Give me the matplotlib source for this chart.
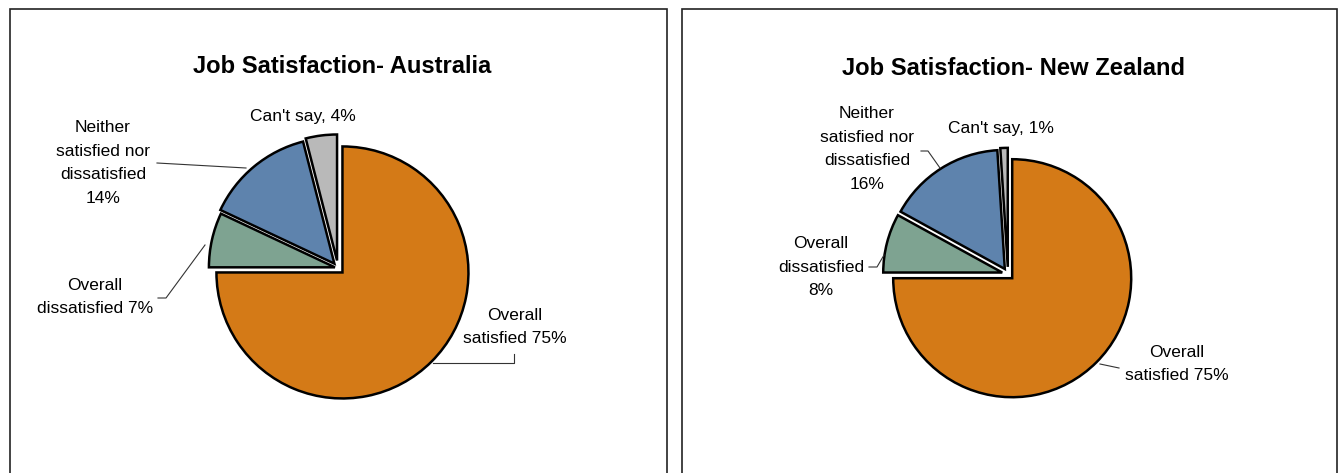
import matplotlib.pyplot as plt
from matplotlib.patches import Rectangle

plt.rcParams['font.family'] = ['Liberation Sans', 'DejaVu Sans']

# data
categories = ["Overall satisfied", "Overall dissatisfied",
              "Neither satisfied nor dissatisfied", "Can't say"]
aus_values = [75, 7, 14, 4]
nz_values = [75, 8, 16, 1]
aus_labels = ["Overall\nsatisfied 75%", "Overall\ndissatisfied 7%",
              "Neither\nsatisfied nor\ndissatisfied\n14%", "Can't say, 4%"]
nz_labels = ["Overall\nsatisfied 75%", "Overall\ndissatisfied\n8%",
             "Neither\nsatisfied nor\ndissatisfied\n16%", "Can't say, 1%"]
colors = ['#D47A17', '#7EA391', '#5E83AD', '#B9B9B9']

W, H = 1342, 473
fig = plt.figure(figsize=(W / 100, H / 100), dpi=100)
ax = fig.add_axes([0, 0, 1, 1])


def Y(y):
    return H - y


panels = [
    dict(title="Job Satisfaction- Australia", values=aus_values, labels=aus_labels,
         box=(10, 667), title_pos=(342, 67), center=(338, 268), r=126,
         explode=[0.05, 0.025, 0.045, 0.06],
         label_pos=[(515, 327), (95, 297), (103, 163), (303, 116)],
         leaders=[[(514, 354), (514, 363), (433, 363)],
                  [(158, 298), (166, 298), (205, 245)],
                  [(157, 163), (246, 168)]]),
    dict(title="Job Satisfaction- New Zealand", values=nz_values, labels=nz_labels,
         box=(682, 1337), title_pos=(1013, 69), center=(1008, 274), r=119,
         explode=[0.05, 0.05, 0.05, 0.06],
         label_pos=[(1177, 364), (821, 267), (867, 149), (1001, 129)],
         leaders=[[(1119, 368), (1100, 364)],
                  [(869, 267), (877, 267), (884, 255)],
                  [(921, 151), (928, 151), (940, 168)]]),
]

for p in panels:
    x0, x1 = p['box']
    ax.add_patch(Rectangle((x0, -20), x1 - x0, Y(9) + 20, fill=False,
                           edgecolor='#222222', linewidth=1.2, clip_on=False))
    ax.pie(p['values'], colors=colors, startangle=90, counterclock=False,
           explode=[e * p['r'] for e in p['explode']],
           center=(p['center'][0], Y(p['center'][1])),
           radius=p['r'], frame=True,
           wedgeprops=dict(edgecolor='black', linewidth=1.8))
    ax.text(p['title_pos'][0], Y(p['title_pos'][1]), p['title'], ha='center',
            va='center', fontsize=17.1, fontweight='bold')
    for lab, (lx, ly) in zip(p['labels'], p['label_pos']):
        ax.text(lx, Y(ly), lab, ha='center', va='center', fontsize=12.5,
                linespacing=1.72)
    for seg in p['leaders']:
        ax.plot([s[0] for s in seg], [Y(s[1]) for s in seg], color='#333333',
                linewidth=0.8)

ax.set_xlim(0, W)
ax.set_ylim(0, H)
ax.set_aspect('auto')
ax.axis('off')
fig.savefig('out.png', dpi=100)
